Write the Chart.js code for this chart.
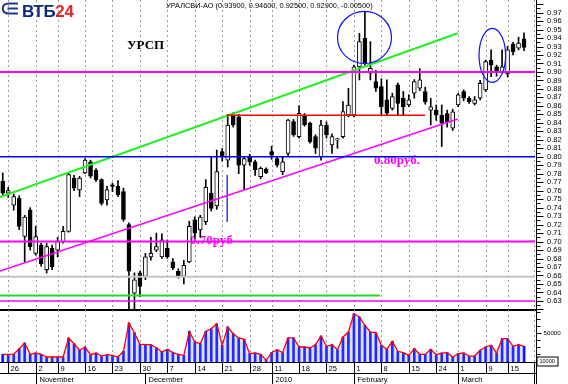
<!DOCTYPE html>
<html lang="ru"><head><meta charset="utf-8"><title>УРСП</title>
<script src="https://cdn.jsdelivr.net/npm/chart.js"></script>
<style>
html,body{margin:0;padding:0;background:#fff;}
#wrap{position:relative;width:568px;height:384px;overflow:hidden;background:#fff;}
#c1,#c2{position:absolute;left:0;}
#c1{top:0;} #c2{top:310px;}
#logo{position:absolute;left:1px;top:1px;}
#logotxt{position:absolute;left:22px;top:3px;font:bold 17px/17px "Liberation Sans",Arial,sans-serif;letter-spacing:-0.3px;white-space:nowrap;}
</style></head>
<body>
<div id="wrap">
<canvas id="c1" width="568" height="312"></canvas>
<canvas id="c2" width="568" height="74"></canvas>
<svg id="logo" width="18" height="15" viewBox="0 0 18 15"><path d="M17 2.5H8C3.8 2.5 1.8 4.6 1.8 7.5S3.8 12.5 8 12.5H17" fill="none" stroke="#1b3a8c" stroke-width="2"/><path d="M6.5 7.5H17" stroke="#1b3a8c" stroke-width="2"/></svg>
<div id="logotxt"><span style="color:#0b2a78">ВТБ</span><span style="color:#e3262b">24</span></div>
</div>
<script>
// ---- data ----
const dayTickIdx = [1,6,10,15,20,25,30,35,40,45,49,54,59,64,69,74,79,83,88,92];
const dayTickLbl = ['26','2','9','16','23','30','7','14','21','28','11','18','25','1','8','15','24','1','9','15'];
const monthIdx = [6,26,49,64,83];
const monthLbl = ['November','December','2010','February','March'];
const titleText = 'УРАЛСВИ-АО (0.93900, 0.94600, 0.92500, 0.92900, -0.00500)';
const volTickLabels = [[50000,'50000']];
const volBoxLabel = [10000,'10000'];

const open = [0.771,0.757,0.743,0.751,0.706,0.737,0.686,0.696,0.667,0.692,
0.690,0.700,0.712,0.775,0.761,0.781,0.794,0.784,0.773,0.749,
0.767,0.765,0.759,0.720,0.639,0.663,0.659,0.682,0.690,0.682,
0.692,0.676,0.665,0.659,0.676,0.7255,0.7137,0.7235,0.757,0.742,
0.806,0.796,0.849,0.847,0.790,0.800,0.794,0.7765,0.7856,0.806,
0.798,0.7825,0.804,0.8414,0.8237,0.849,0.8395,0.8237,0.800,0.8375,
0.814,0.820,0.8237,0.849,0.849,0.906,0.9397,0.8985,0.8886,0.8827,
0.867,0.857,0.8847,0.869,0.861,0.8749,0.8808,0.8768,0.855,0.855,
0.849,0.851,0.8336,0.861,0.8768,0.869,0.863,0.869,0.8788,0.914,
0.906,0.900,0.898,0.933,0.928,0.939];
const high = [0.781,0.764,0.756,0.754,0.731,0.740,0.718,0.698,0.698,0.696,
0.705,0.718,0.781,0.778,0.777,0.798,0.796,0.786,0.774,0.765,
0.769,0.772,0.763,0.722,0.663,0.665,0.686,0.705,0.710,0.709,
0.702,0.680,0.668,0.678,0.724,0.729,0.731,0.773,0.800,0.808,
0.810,0.850,0.852,0.850,0.800,0.803,0.796,0.788,0.787,0.8125,
0.800,0.800,0.844,0.844,0.860,0.851,0.841,0.826,0.843,0.841,
0.827,0.822,0.865,0.8807,0.908,0.9456,0.971,0.9357,0.902,0.892,
0.8906,0.875,0.887,0.877,0.873,0.891,0.904,0.882,0.869,0.861,
0.861,0.855,0.856,0.875,0.879,0.871,0.871,0.890,0.914,0.926,
0.908,0.926,0.930,0.935,0.941,0.946];
const low = [0.755,0.752,0.737,0.714,0.676,0.690,0.684,0.671,0.663,0.667,
0.682,0.698,0.711,0.760,0.753,0.780,0.775,0.771,0.743,0.743,
0.759,0.753,0.724,0.617,0.617,0.635,0.655,0.678,0.688,0.680,
0.680,0.667,0.657,0.650,0.675,0.704,0.705,0.720,0.736,0.738,
0.795,0.788,0.835,0.780,0.761,0.790,0.778,0.774,0.780,0.797,
0.788,0.779,0.800,0.824,0.822,0.836,0.816,0.804,0.796,0.822,
0.804,0.810,0.822,0.847,0.847,0.8906,0.908,0.8906,0.877,0.849,
0.849,0.855,0.849,0.849,0.859,0.869,0.878,0.862,0.8375,0.843,
0.812,0.835,0.831,0.859,0.866,0.863,0.861,0.867,0.877,0.8945,
0.895,0.899,0.894,0.920,0.926,0.925];
const close = [0.757,0.760,0.753,0.718,0.729,0.694,0.706,0.674,0.694,0.670,
0.700,0.712,0.779,0.763,0.775,0.796,0.777,0.773,0.745,0.761,
0.765,0.755,0.726,0.665,0.655,0.647,0.682,0.686,0.694,0.702,
0.682,0.669,0.659,0.672,0.718,0.710,0.729,0.764,0.739,0.7825,
0.800,0.8375,0.8375,0.790,0.798,0.794,0.7844,0.7864,0.7812,0.802,
0.790,0.794,0.8434,0.8257,0.8513,0.8375,0.8178,0.810,0.8375,0.8257,
0.8237,0.820,0.8532,0.861,0.906,0.9357,0.910,0.9043,0.8808,0.859,
0.8513,0.871,0.863,0.859,0.867,0.8886,0.8906,0.865,0.859,0.849,
0.8395,0.8414,0.853,0.8729,0.869,0.865,0.867,0.8867,0.9121,0.908,
0.900,0.906,0.926,0.924,0.934,0.929];
const volume = [19600,19600,19600,27600,35700,19600,21400,19600,15700,15700,
15700,15700,42900,34700,25300,30000,19000,21400,17100,19000,
18100,15700,23900,64300,50400,33900,33300,33300,29000,22900,
26700,21900,19600,18100,52400,37100,34700,52400,56100,63300,
32400,58600,49000,42900,41000,20400,21400,19600,11000,21900,
26100,21900,42900,42900,30000,30000,28600,33300,45700,31000,
33300,26100,44300,51400,77600,72900,61000,51400,50400,32400,
26700,38100,23900,21900,18100,27600,19600,19600,26700,19000,
21400,21900,15700,20400,21400,17100,17100,25300,30000,32400,
21400,41900,41900,31000,33300,31000];

// drawn studies (index, price)
const levelHigh = 0.90, levelMid = 0.80, levelLow = 0.70, levelGray = 0.6585, levelBottom = 0.63;
const greenTrend = [[-0.5,0.7526],[82.9,0.9456]];
const pinkTrend  = [[-0.5,0.6653],[82.9,0.8446]];
const redLevel   = [[40.8,0.849],[76.96,0.849]];
const greenLevel = [[-0.5,0.6365],[68.75,0.6365]];
const blueMark   = [[40.9,0.7785],[40.9,0.7231]];
const ellipses = [[65.93,0.9407,4.92,0.0307],[89.22,0.9195,2.42,0.0318]];
const notes = [['УРСП',22.65,0.9271],['0.80руб.',67.66,0.7915],['0.70руб',34.13,0.6972]];

const X_MIN = -0.5, X_MAX = 97;
const P_MIN = 0.6193, P_MAX = 0.9825;
const V_MIN = 8571, V_MAX = 80000;

Chart.defaults.font.family = '"Liberation Sans", Arial, sans-serif';
const idx = open.map((_, i) => i);
const pts = arr => arr.map(([x, y]) => ({x, y}));
const full = v => [{x: X_MIN, y: v}, {x: X_MAX, y: v}];
const lineDs = (data, color, w) => ({type:'line', data, borderColor:color, borderWidth:w, pointRadius:0, fill:false, tension:0, order:0, clip:0});

function line(ctx, x1, y1, x2, y2){ ctx.beginPath(); ctx.moveTo(x1,y1); ctx.lineTo(x2,y2); ctx.stroke(); }

const pricePlugin = {
  id:'pricePlugin',
  beforeDatasetsDraw(chart){
    const {ctx, chartArea:a, scales:{x, y}} = chart;
    ctx.save();
    ctx.strokeStyle = '#9a9a9a'; ctx.lineWidth = 1; ctx.setLineDash([2,3]);
    dayTickIdx.forEach(i => { const px = Math.round(x.getPixelForValue(i)) + 0.5; line(ctx, px, 0, px, a.bottom); });
    line(ctx, a.right - 0.5, 0, a.right - 0.5, a.bottom);
    ctx.setLineDash([]);
    ctx.textBaseline = 'alphabetic'; ctx.textAlign = 'left';
    notes.forEach(([t, i, p], k) => {
      ctx.font = 'bold 13px "Liberation Serif", "Times New Roman", serif';
      ctx.fillStyle = k === 0 ? '#000000' : '#ff00ff';
      ctx.fillText(t, x.getPixelForValue(i), y.getPixelForValue(p));
    });
    ctx.restore();
  },
  afterDatasetsDraw(chart){
    const {ctx, scales:{x, y}} = chart;
    ctx.save();
    ctx.strokeStyle = '#1010ff'; ctx.lineWidth = 1.2;
    ellipses.forEach(([ci, cp, ri, rp]) => {
      const cx = x.getPixelForValue(ci), cy = y.getPixelForValue(cp);
      const rx = Math.abs(x.getPixelForValue(ci + ri) - cx), ry = Math.abs(y.getPixelForValue(cp + rp) - cy);
      ctx.beginPath(); ctx.ellipse(cx, cy, rx, ry, 0, 0, Math.PI * 2); ctx.stroke();
    });
    ctx.restore();
  },
  afterDraw(chart){
    const {ctx, chartArea:a, scales:{y}, height} = chart;
    ctx.save();
    ctx.strokeStyle = '#000'; ctx.lineWidth = 1;
    const ax = Math.round(a.right) + 1.5;
    line(ctx, ax, 0, ax, height);
    for (let k = 124; k <= 196; k++) {
      const v = k / 200; if (v < P_MIN || v > P_MAX) continue;
      const py = Math.round(y.getPixelForValue(v)) + 0.5;
      line(ctx, ax, py, ax + (k % 2 === 0 ? 7 : 4), py);
    }
    ctx.lineWidth = 2;
    line(ctx, 0, a.bottom, ax, a.bottom);
    // title
    ctx.fillStyle = '#000'; ctx.textBaseline = 'middle'; ctx.textAlign = 'left';
    ctx.font = '7px "Liberation Sans", Arial, sans-serif';
    const w = ctx.measureText(titleText).width;
    ctx.font = (7 * 207 / w).toFixed(2) + 'px "Liberation Sans", Arial, sans-serif';
    ctx.fillText(titleText, 166, 5.5);
    ctx.restore();
  }
};

new Chart(document.getElementById('c1'), {
  type:'bar',
  data:{ datasets:[
    lineDs(full(levelHigh), '#ff00ff', 2),
    lineDs(full(levelMid), '#0000ff', 1.5),
    lineDs(full(levelLow), '#ff00ff', 2),
    lineDs(full(levelGray), '#c4c4c4', 2),
    lineDs(full(levelBottom), '#ff00ff', 1.5),
    lineDs(pts(greenLevel), '#22dd22', 2),
    lineDs(pts(redLevel), '#ff0000', 1.5),
    lineDs(pts(greenTrend), '#22ee22', 2),
    lineDs(pts(pinkTrend), '#ff00ff', 1.5),
    lineDs(pts(blueMark), '#0000ff', 1.2),
    {type:'bar', data: idx.map(i => ({x:i, y:[open[i], close[i]]})), barThickness:4, grouped:false,
     backgroundColor: idx.map(i => close[i] >= open[i] ? '#ffffff' : '#000000'),
     borderColor:'#000', borderWidth:1, borderSkipped:false, minBarLength:1, order:1, clip:0},
    {type:'bar', data: idx.map(i => ({x:i, y:[low[i], high[i]]})), barThickness:1, grouped:false,
     backgroundColor:'#000', borderWidth:0, order:2, clip:0}
  ]},
  options:{
    responsive:false, animation:false, events:[],
    layout:{padding:{top:2, bottom:2, left:0, right:0}, autoPadding:false},
    plugins:{legend:{display:false}, tooltip:{enabled:false}},
    scales:{
      x:{type:'linear', min:X_MIN, max:X_MAX, display:false, offset:false},
      y:{type:'linear', position:'right', min:P_MIN, max:P_MAX,
         grid:{display:false, drawTicks:true, tickLength:12}, border:{display:false},
         afterFit: s => { s.width = 33; s.paddingTop = 0; s.paddingBottom = 0; },
         ticks:{stepSize:0.01, includeBounds:false, autoSkip:false, padding:0, color:'#000',
                font:{size:7.5, lineHeight:0.1}, callback: v => (v > 0.625 && v < 0.975) ? v.toFixed(2) : ''}}
    }
  },
  plugins:[pricePlugin]
});

const volPlugin = {
  id:'volPlugin',
  beforeDatasetsDraw(chart){
    const {ctx, chartArea:a, scales:{x}} = chart;
    ctx.save();
    ctx.strokeStyle = '#9a9a9a'; ctx.lineWidth = 1; ctx.setLineDash([2,3]);
    dayTickIdx.forEach(i => { const px = Math.round(x.getPixelForValue(i)) + 0.5; line(ctx, px, 0, px, a.bottom); });
    line(ctx, a.right - 0.5, 0, a.right - 0.5, a.bottom);
    ctx.restore();
  },
  afterDraw(chart){
    const {ctx, chartArea:a, scales:{x, y}, height} = chart;
    ctx.save();
    ctx.strokeStyle = '#000'; ctx.lineWidth = 1; ctx.fillStyle = '#000';
    const ax = Math.round(a.right) + 1.5;
    line(ctx, ax, 0, ax, height);
    for (let v = 10000; v <= 80000; v += 10000) {
      const py = Math.round(y.getPixelForValue(v)) + 0.5;
      line(ctx, ax, py, ax + (v === 50000 ? 5 : 4), py);
    }
    ctx.textBaseline = 'middle'; ctx.textAlign = 'left';
    ctx.font = '6.2px "Liberation Sans", Arial, sans-serif';
    volTickLabels.forEach(([v, t]) => ctx.fillText(t, ax + 7, y.getPixelForValue(v) + 0.5));
    const by = Math.round(y.getPixelForValue(volBoxLabel[0])) + 0.5;
    ctx.fillStyle = '#fff'; ctx.fillRect(ax + 1, by - 4, 21, 8);
    ctx.strokeRect(ax + 0.5, by - 4.5, 21, 9);
    ctx.fillStyle = '#000'; ctx.font = '5.5px "Liberation Sans", Arial, sans-serif';
    ctx.fillText(volBoxLabel[1], ax + 3, by);
    // date axis
    const top = Math.round(a.bottom) + 0.5, mid = top + 11;
    line(ctx, 0, top, ax, top); line(ctx, 0, mid, ax, mid);
    line(ctx, a.right - 0.5, top, a.right - 0.5, height);
    ctx.font = '7.5px "Liberation Sans", Arial, sans-serif';
    dayTickIdx.forEach((i, k) => {
      const px = Math.round(x.getPixelForValue(i)) + 0.5;
      line(ctx, px, top, px, mid);
      ctx.fillText(dayTickLbl[k], px + 2, (top + mid) / 2 + 0.5);
    });
    monthIdx.forEach((i, k) => {
      const px = Math.round(x.getPixelForValue(i)) + 0.5;
      line(ctx, px, mid, px, height);
      ctx.fillText(monthLbl[k], px + 3, (mid + height) / 2 + 1);
    });
    ctx.restore();
  }
};

new Chart(document.getElementById('c2'), {
  type:'bar',
  data:{ datasets:[
    {type:'line', data: idx.map(i => ({x:i, y:volume[i]})), borderColor:'#ff0000', borderWidth:1.3,
     pointRadius:0, tension:0, fill:'start', backgroundColor:'rgba(130,150,255,0.28)', order:0, clip:0},
    {type:'bar', data: idx.map(i => ({x:i, y:volume[i]})), barThickness:2, grouped:false,
     backgroundColor:'#0000ff', borderWidth:0, order:1, clip:0}
  ]},
  options:{
    responsive:false, animation:false, events:[],
    layout:{padding:{top:2, bottom:22, left:0, right:0}, autoPadding:false},
    plugins:{legend:{display:false}, tooltip:{enabled:false}},
    scales:{
      x:{type:'linear', min:X_MIN, max:X_MAX, display:false, offset:false},
      y:{type:'linear', position:'right', min:V_MIN, max:V_MAX,
         grid:{display:false, drawTicks:false}, border:{display:false},
         afterFit: s => { s.width = 33; s.paddingTop = 0; s.paddingBottom = 0; },
         ticks:{display:false}}
    }
  },
  plugins:[volPlugin]
});
</script>
</body></html>
